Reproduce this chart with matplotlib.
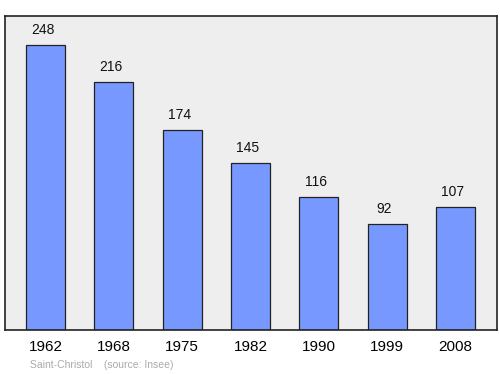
import matplotlib.pyplot as plt
import numpy as np

plt.rcParams['font.family'] = ['Liberation Sans', 'DejaVu Sans']

years = ['1962', '1968', '1975', '1982', '1990', '1999', '2008']
population = [248, 216, 174, 145, 116, 92, 107]

fig = plt.figure(figsize=(5, 3.74), dpi=100)
ax = fig.add_axes([0.01, 0.1176, 0.984, 0.8396])
ax.set_facecolor('#eeeeee')

xs = np.arange(len(years))
ax.bar(xs, population, width=0.57, color='#7799ff', edgecolor='#222222', linewidth=0.9, zorder=2)
for x, v in zip(xs, population):
    ax.text(x - 0.04, v + 7, str(v), ha='center', va='bottom', fontsize=10, color='#111111')

ax.set_xlim(-0.593, 6.607)
ax.set_ylim(0, 273)
ax.set_xticks(xs)
ax.set_xticklabels(years, fontsize=11)
ax.tick_params(axis='x', length=0, pad=7)
ax.set_yticks([])
for s in ax.spines.values():
    s.set_color('#222222')
    s.set_linewidth(1.2)

fig.text(0.06, 0.016, 'Saint-Christol    (source: Insee)', fontsize=7.5, color='#aaaaaa')

fig.savefig('out.png', dpi=100)
